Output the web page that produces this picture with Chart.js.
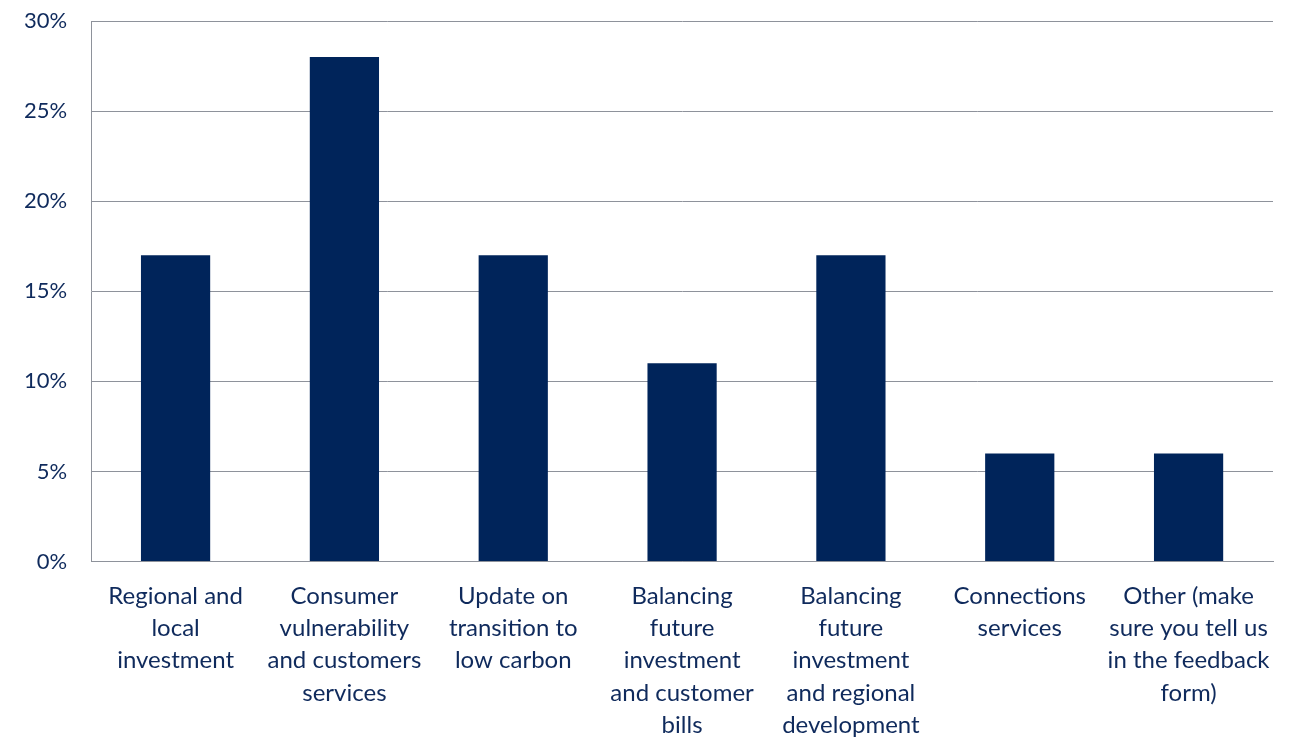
<!DOCTYPE html>
<html><head><meta charset="utf-8">
<script src="https://cdn.jsdelivr.net/npm/chart.js@4"></script>
<style>html,body{margin:0;padding:0;background:#fff}#wrap{width:1302px;height:740px}</style>
</head><body><div id="wrap"><canvas id="c" width="1302" height="740"></canvas></div>
<script>
const categories = [
  ["Regional and","local","investment"],
  ["Consumer","vulnerability","and customers","services"],
  ["Update on","transition to","low carbon"],
  ["Balancing","future","investment","and customer","bills"],
  ["Balancing","future","investment","and regional","development"],
  ["Connections","services"],
  ["Other (make","sure you tell us","in the feedback","form)"]
];
const values = [17, 28, 17, 11, 17, 6, 6];
const yTicks = [0, 5, 10, 15, 20, 25, 30];

const textColor = '#0F2A5C';
const gridColor = '#8E929B';
new Chart(document.getElementById('c'), {
  type: 'bar',
  data: { labels: categories, datasets: [{ data: values, backgroundColor: '#00245A', borderWidth: 0 }] },
  options: {
    responsive: false, animation: false,
    layout: { padding: { top: 21, right: 29, left: 0, bottom: -20 } },
    plugins: { legend: { display: false }, tooltip: { enabled: false } },
    datasets: { bar: { categoryPercentage: 1, barPercentage: 0.41 } },
    scales: {
      x: {
        grid: { display: false, drawTicks: false },
        border: { display: true, color: gridColor, width: 1 },
        ticks: { color: textColor, font: { family: 'Lato', size: 24, lineHeight: 1.354 }, maxRotation: 0, minRotation: 0, autoSkip: false, padding: 18 }
      },
      y: {
        min: 0, max: 30,
        afterBuildTicks: (s) => { s.ticks = yTicks.map(v => ({ value: v })); },
        afterFit: (s) => { s.paddingTop = 0; s.paddingBottom = 0; },
        grid: { color: gridColor, drawTicks: false, lineWidth: 1 },
        border: { display: true, color: gridColor },
        ticks: { color: textColor, font: { family: 'Lato', size: 22 }, padding: 24, callback: v => v + '%' }
      }
    }
  }
});
</script></body></html>
